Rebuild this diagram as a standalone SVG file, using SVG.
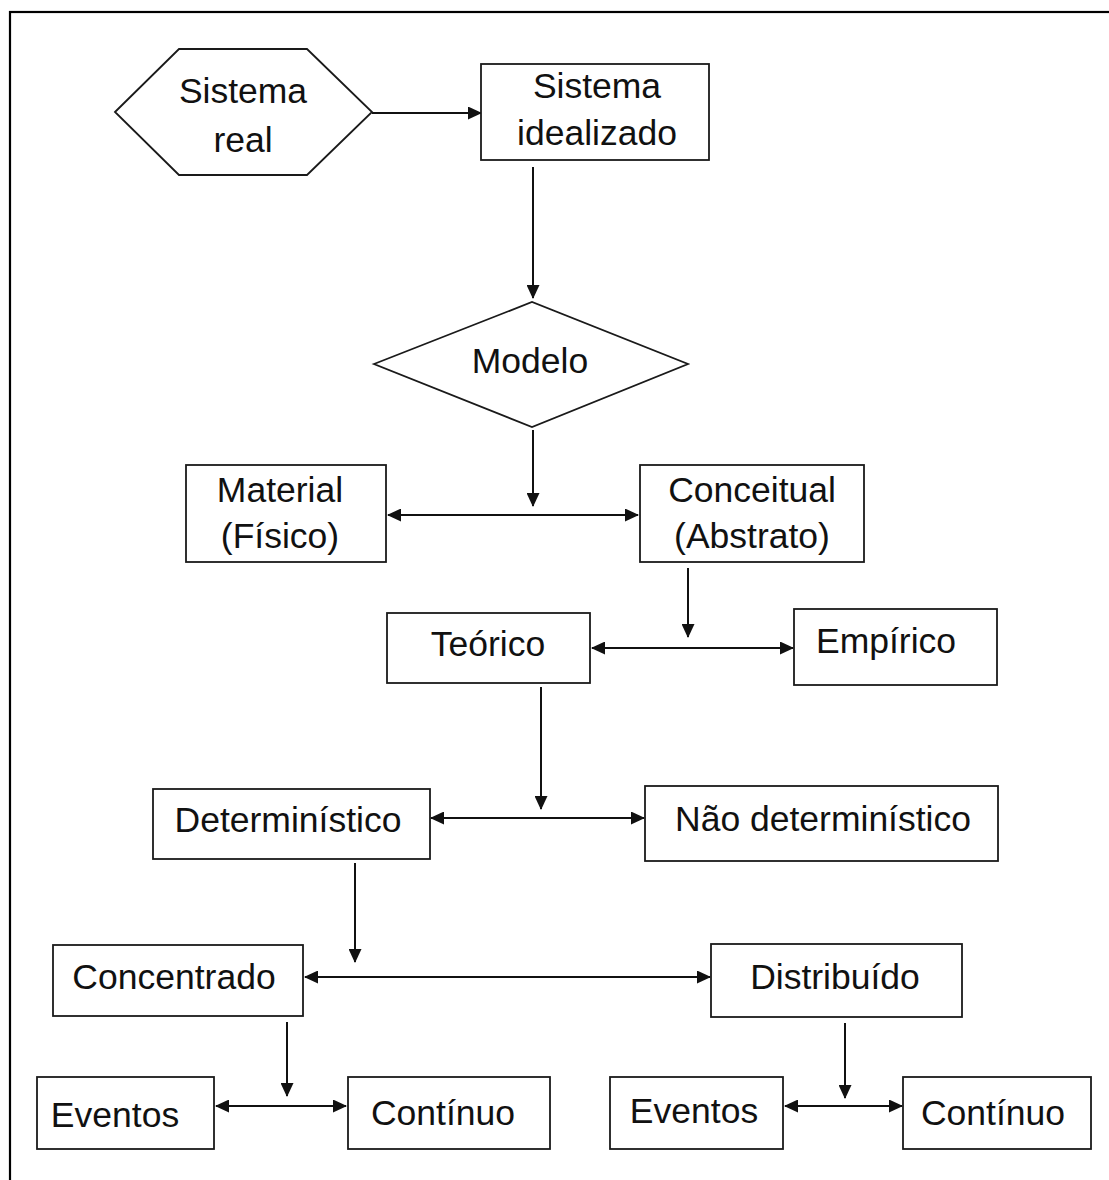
<svg xmlns="http://www.w3.org/2000/svg" width="1109" height="1180" viewBox="0 0 1109 1180">
<style>
.box{fill:#fff;stroke:#1a1a1a;stroke-width:1.8}
.t{font-family:"Liberation Sans",Arial,sans-serif;font-size:35.5px;fill:#111;text-anchor:middle}
.c{stroke:#111;stroke-width:2;fill:none}
.a{marker-end:url(#ah)}
.d{marker-start:url(#ah);marker-end:url(#ah)}
</style>
<defs>
<marker id="ah" markerUnits="userSpaceOnUse" markerWidth="14" markerHeight="13" refX="13" refY="6.5" orient="auto-start-reverse" viewBox="0 0 14 13">
<path d="M0,0 L14,6.5 L0,13 z" fill="#111"/>
</marker>
</defs>
<rect x="10" y="12" width="1110" height="1180" fill="#fff" stroke="#000" stroke-width="2.2"/>
<g id="connectors">
<line class="c a" x1="372" y1="113" x2="481" y2="113"/>
<line class="c a" x1="533" y1="167" x2="533" y2="298"/>
<line class="c a" x1="533" y1="430" x2="533" y2="506"/>
<line class="c d" x1="388" y1="515" x2="638" y2="515"/>
<line class="c a" x1="688" y1="568" x2="688" y2="637"/>
<line class="c d" x1="592" y1="648" x2="793" y2="648"/>
<line class="c a" x1="541" y1="687" x2="541" y2="809"/>
<line class="c d" x1="431" y1="818" x2="644" y2="818"/>
<line class="c a" x1="355" y1="863" x2="355" y2="962"/>
<line class="c d" x1="305" y1="977" x2="710" y2="977"/>
<line class="c a" x1="287" y1="1022" x2="287" y2="1096"/>
<line class="c d" x1="216" y1="1106" x2="346" y2="1106"/>
<line class="c a" x1="845" y1="1023" x2="845" y2="1098"/>
<line class="c d" x1="785" y1="1106" x2="902" y2="1106"/>
</g>
<g id="sistema-real">
<polygon class="box" points="115,112 179,49 307,49 372,112 307,175 179,175"/>
<text class="t" x="243" y="103">Sistema</text>
<text class="t" x="243" y="152">real</text>
</g>
<g id="sistema-idealizado">
<rect class="box" x="481" y="64" width="228" height="96"/>
<text class="t" x="597" y="98">Sistema</text>
<text class="t" x="597" y="145">idealizado</text>
</g>
<g id="modelo">
<polygon class="box" points="374,364 532,302 688,364 532,427"/>
<text class="t" x="530" y="373">Modelo</text>
</g>
<g id="material">
<rect class="box" x="186" y="465" width="200" height="97"/>
<text class="t" x="280" y="502">Material</text>
<text class="t" x="280" y="548">(Físico)</text>
</g>
<g id="conceitual">
<rect class="box" x="640" y="465" width="224" height="97"/>
<text class="t" x="752" y="502">Conceitual</text>
<text class="t" x="752" y="548">(Abstrato)</text>
</g>
<g id="teorico">
<rect class="box" x="387" y="613" width="203" height="70"/>
<text class="t" x="488" y="656">Teórico</text>
</g>
<g id="empirico">
<rect class="box" x="794" y="609" width="203" height="76"/>
<text class="t" x="886" y="653">Empírico</text>
</g>
<g id="deterministico">
<rect class="box" x="153" y="789" width="277" height="70"/>
<text class="t" x="288" y="832">Determinístico</text>
</g>
<g id="nao-deterministico">
<rect class="box" x="645" y="786" width="353" height="75"/>
<text class="t" x="823" y="831">Não determinístico</text>
</g>
<g id="concentrado">
<rect class="box" x="53" y="945" width="250" height="71"/>
<text class="t" x="174" y="989">Concentrado</text>
</g>
<g id="distribuido">
<rect class="box" x="711" y="944" width="251" height="73"/>
<text class="t" x="835" y="989">Distribuído</text>
</g>
<g id="eventos-1">
<rect class="box" x="37" y="1077" width="177" height="72"/>
<text class="t" x="115" y="1127">Eventos</text>
</g>
<g id="continuo-1">
<rect class="box" x="348" y="1077" width="202" height="72"/>
<text class="t" x="443" y="1125">Contínuo</text>
</g>
<g id="eventos-2">
<rect class="box" x="610" y="1077" width="173" height="72"/>
<text class="t" x="694" y="1123">Eventos</text>
</g>
<g id="continuo-2">
<rect class="box" x="903" y="1077" width="188" height="72"/>
<text class="t" x="993" y="1125">Contínuo</text>
</g>
</svg>
